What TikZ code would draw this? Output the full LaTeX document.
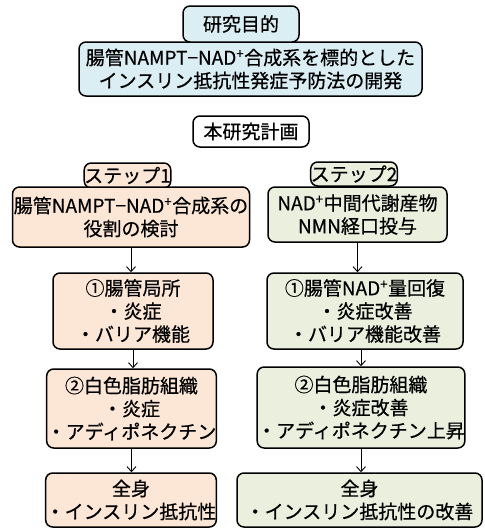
\documentclass[tikz,border=0pt]{standalone}
\usepackage{fontspec}
\setmainfont{Noto Sans CJK JP}[FakeBold=0.5]
\usetikzlibrary{arrows.meta}

\begin{document}
\begin{tikzpicture}[x=1pt,y=-1pt,>={Straight Barb[length=5pt,width=9pt]},
	box/.style={draw,line width=1.5pt,rounded corners=7pt,align=center,
		inner sep=0pt,font=\fontsize{19}{23}\selectfont},
	flow/.style={->,line width=0.9pt}]

\definecolor{lightblue}{HTML}{DAEEF3}
\definecolor{peach}{HTML}{FCE6D6}
\definecolor{sage}{HTML}{EBF0DE}

\def\plus{\textsuperscript{+}}

\useasboundingbox (0,0) rectangle (485,528);

% Ziel
\node[box,fill=lightblue,minimum width=343,minimum height=54] (goal) at (250.5,69)
	{腸管NAMPT−NAD\plus 合成系を標的とした\\インスリン抵抗性発症予防法の開発};
\node[box,fill=lightblue,minimum width=116,minimum height=36] (purpose) at (241,24) {研究目的};
\node[box,fill=white,minimum width=116,minimum height=31] (plan) at (251,131.5) {本研究計画};

% Schritt 1
\node[box,fill=peach,minimum width=85,minimum height=25] (tagA) at (127.5,175.5) {ステップ1};
\node[box,fill=peach,minimum width=237,minimum height=60] (stepA) at (131,217)
	{腸管NAMPT−NAD\plus 合成系の\\役割の検討};
\node[box,fill=peach,minimum width=160,minimum height=76] (localA) at (133,311)
	{①腸管局所\\・炎症\\・バリア機能};
\node[box,fill=peach,minimum width=161,minimum height=79] (fatA) at (131.5,408.5)
	{②白色脂肪組織\\・炎症\\・アディポネクチン};
\node[box,fill=peach,minimum width=162,minimum height=54] (bodyA) at (131,500)
	{全身\\・インスリン抵抗性};

% Schritt 2
\node[box,fill=sage,minimum width=86,minimum height=24] (tagB) at (354,174) {ステップ2};
\node[box,fill=sage,minimum width=179,minimum height=55] (stepB) at (357.5,214.5)
	{NAD\plus 中間代謝産物\\NMN経口投与};
\node[box,fill=sage,minimum width=196,minimum height=76] (localB) at (365,311)
	{①腸管NAD\plus 量回復\\・炎症改善\\・バリア機能改善};
\node[box,fill=sage,minimum width=192,minimum height=81] (fatB) at (361,407.5)
	{②白色脂肪組織\\・炎症改善\\・アディポネクチン上昇};
\node[box,fill=sage,minimum width=245,minimum height=54] (bodyB) at (359.5,500)
	{全身\\・インスリン抵抗性の改善};

\draw[flow] (stepA.south) -- (stepA.south |- localA.north);
\draw[flow] (localA.south) -- (localA.south |- fatA.north);
\draw[flow] (fatA.south) -- (fatA.south |- bodyA.north);
\draw[flow] (stepB.south) -- (stepB.south |- localB.north);
\draw[flow] (fatB.south |- localB.south) -- (fatB.north);
\draw[flow] (fatB.south) -- (fatB.south |- bodyB.north);

\end{tikzpicture}
\end{document}
